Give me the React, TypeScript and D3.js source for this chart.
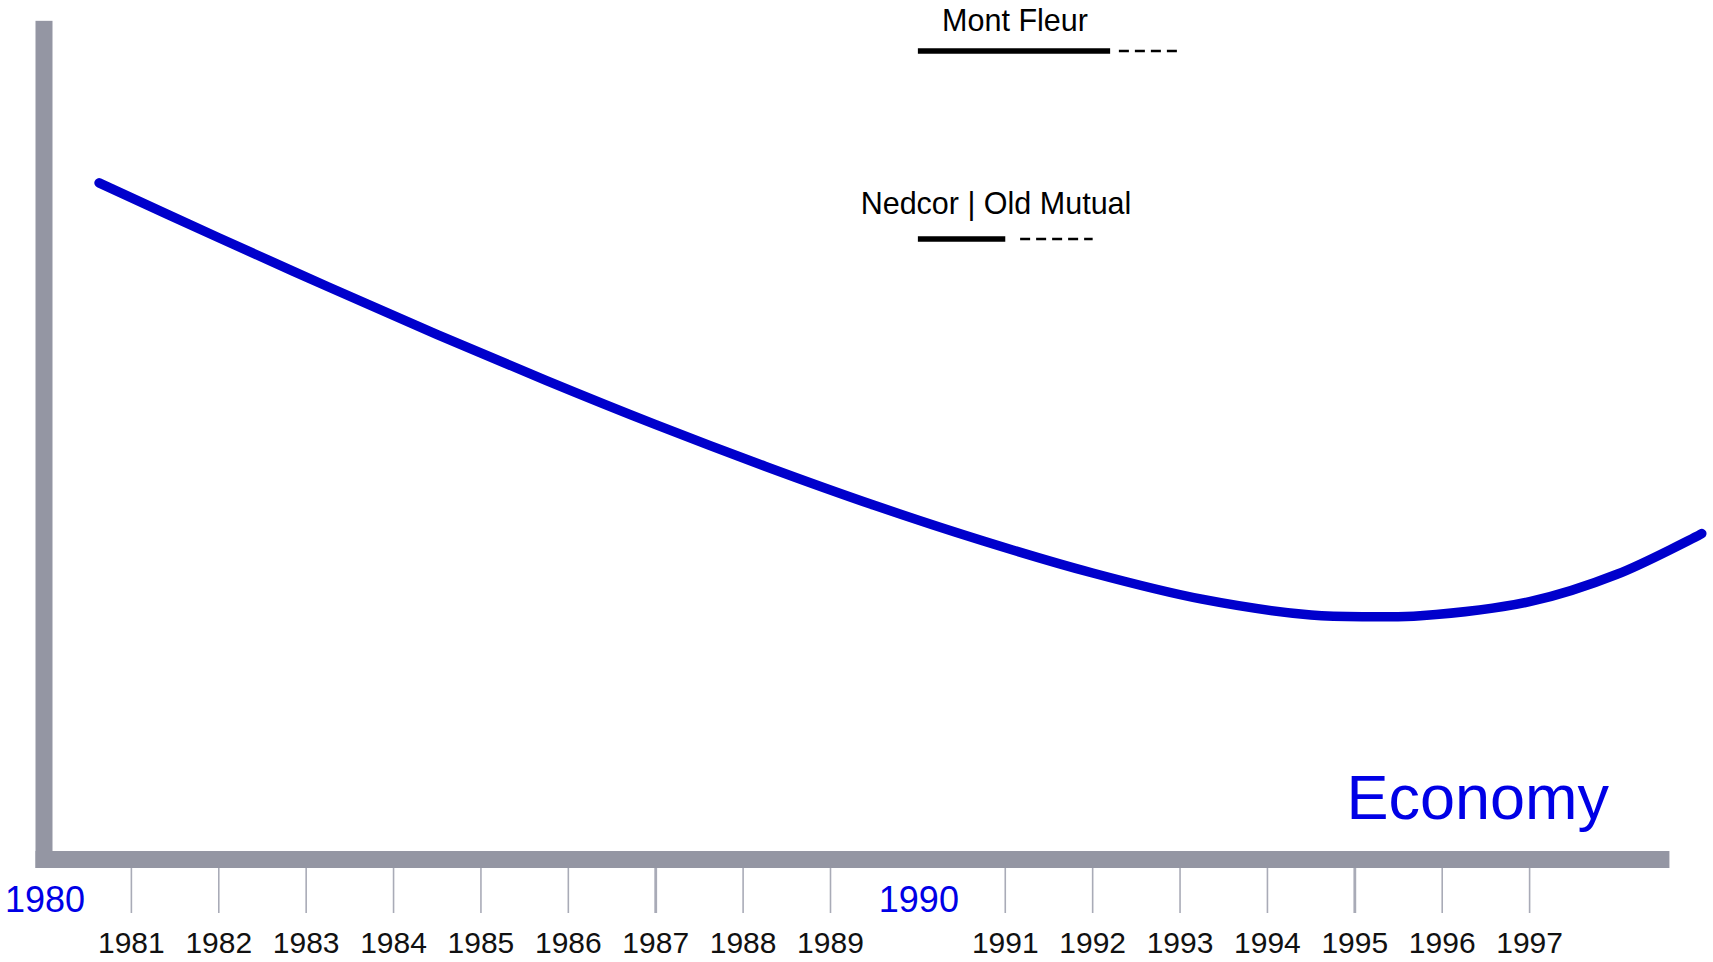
import React, { useEffect, useRef } from "react";
import * as d3 from "d3";

// Economy curve (year, level 0-100 above the axis)
const YEARS = [1980.63, 1982.0, 1983.25, 1984.5, 1985.75, 1987.0, 1988.25, 1989.5, 1990.75, 1992.0, 1993.25, 1994.5, 1995.2, 1995.75, 1997.0, 1998.0, 1998.97];
const LEVELS = [80.4, 73.8, 67.9, 62.15, 56.6, 51.3, 46.3, 41.6, 37.3, 33.45, 30.3, 28.4, 28.2, 28.3, 30.0, 33.3, 38.2];

// Tick labels
const TICK_YEARS = [1981, 1982, 1983, 1984, 1985, 1986, 1987, 1988, 1989, 1991, 1992, 1993, 1994, 1995, 1996, 1997];
const MAJOR_TICKS = [1987, 1995];
const DECADES = [1980, 1990];

// Scenario projects: solid = run, dashed = after
const PROJECTS = ["Mont Fleur", "Nedcor | Old Mutual"];
const SOLID_SPANS = [[1990, 1992.2], [1990, 1991.0]];
const DASHED_SPANS = [[1992.3, 1993.0], [1991.17, 1992.0]];

export default function App() {
  const svgRef = useRef<SVGSVGElement | null>(null);

  useEffect(() => {
    document.body.style.margin = "0";
    const width = 1713;
    const height = 962;
    const font = "'Liberation Sans', Arial, sans-serif";
    const axisColor = "#9496a3";
    const tickColor = "#a9abb7";
    const curveColor = "#0000cc";
    const labelBlue = "#0000e6";

    const svg = d3.select(svgRef.current)
      .attr("width", width)
      .attr("height", height)
      .attr("viewBox", `0 0 ${width} ${height}`);
    svg.selectAll("*").remove();

    const x = d3.scaleLinear().domain([1980, 1997]).range([44, 1529.6]);
    const y = d3.scaleLinear().domain([0, 100]).range([851, 20]);

    const barW = 17;
    const axisEnd = 1998.6;

    // Axis bars
    svg.append("rect")
      .attr("x", x(1980) - barW / 2).attr("y", y(99.9))
      .attr("width", barW).attr("height", y(0) + barW - y(99.9))
      .attr("fill", axisColor);
    svg.append("rect")
      .attr("x", x(1980) - barW / 2).attr("y", y(0))
      .attr("width", x(axisEnd) - x(1980) + barW / 2).attr("height", barW)
      .attr("fill", axisColor);

    // Ticks
    svg.selectAll(".tick")
      .data(TICK_YEARS)
      .join("line")
      .attr("x1", d => x(d)).attr("x2", d => x(d))
      .attr("y1", y(0) + barW).attr("y2", 913)
      .attr("stroke", tickColor)
      .attr("stroke-width", d => MAJOR_TICKS.includes(d) ? 2.8 : 1.6);

    svg.selectAll(".year")
      .data(TICK_YEARS)
      .join("text")
      .attr("x", d => x(d)).attr("y", 953)
      .attr("text-anchor", "middle")
      .attr("fill", "#111")
      .style("font-family", font).style("font-size", "30px")
      .text(d => d);

    svg.selectAll(".decade")
      .data(DECADES)
      .join("text")
      .attr("x", d => x(d) + 1).attr("y", 912)
      .attr("text-anchor", "middle")
      .attr("fill", labelBlue)
      .style("font-family", font).style("font-size", "36px")
      .text(d => d);

    // Economy curve
    const pts = YEARS.map((yr, i) => [yr, LEVELS[i]] as [number, number]);
    const line = d3.line<[number, number]>()
      .x(d => x(d[0]))
      .y(d => y(d[1]))
      .curve(d3.curveCatmullRom.alpha(0.5));
    svg.append("path")
      .datum(pts)
      .attr("d", line)
      .attr("fill", "none")
      .attr("stroke", curveColor)
      .attr("stroke-width", 9.5)
      .attr("stroke-linecap", "round")
      .attr("stroke-linejoin", "round");

    svg.append("text")
      .attr("x", 1609).attr("y", 819)
      .attr("text-anchor", "end")
      .attr("fill", labelBlue)
      .style("font-family", font).style("font-size", "63px")
      .text("Economy");

    // Project timelines
    const labelY = [31, 214];
    const lineY = [51, 239];
    const labelX = [1015, 996];
    PROJECTS.forEach((name, i) => {
      svg.append("text")
        .attr("x", labelX[i]).attr("y", labelY[i])
        .attr("text-anchor", "middle")
        .attr("fill", "#000")
        .style("font-family", font).style("font-size", "30.5px")
        .text(name);
      svg.append("line")
        .attr("x1", x(SOLID_SPANS[i][0])).attr("x2", x(SOLID_SPANS[i][1]))
        .attr("y1", lineY[i]).attr("y2", lineY[i])
        .attr("stroke", "#000").attr("stroke-width", 5.5);
      svg.append("line")
        .attr("x1", x(DASHED_SPANS[i][0])).attr("x2", x(DASHED_SPANS[i][1]))
        .attr("y1", lineY[i]).attr("y2", lineY[i])
        .attr("stroke", "#000").attr("stroke-width", 2.5)
        .attr("stroke-dasharray", "10,6");
    });
  }, []);

  return (
    <div style={{ position: "absolute", left: 0, top: 0, background: "#fff" }}>
      <svg ref={svgRef} style={{ display: "block" }} />
    </div>
  );
}
